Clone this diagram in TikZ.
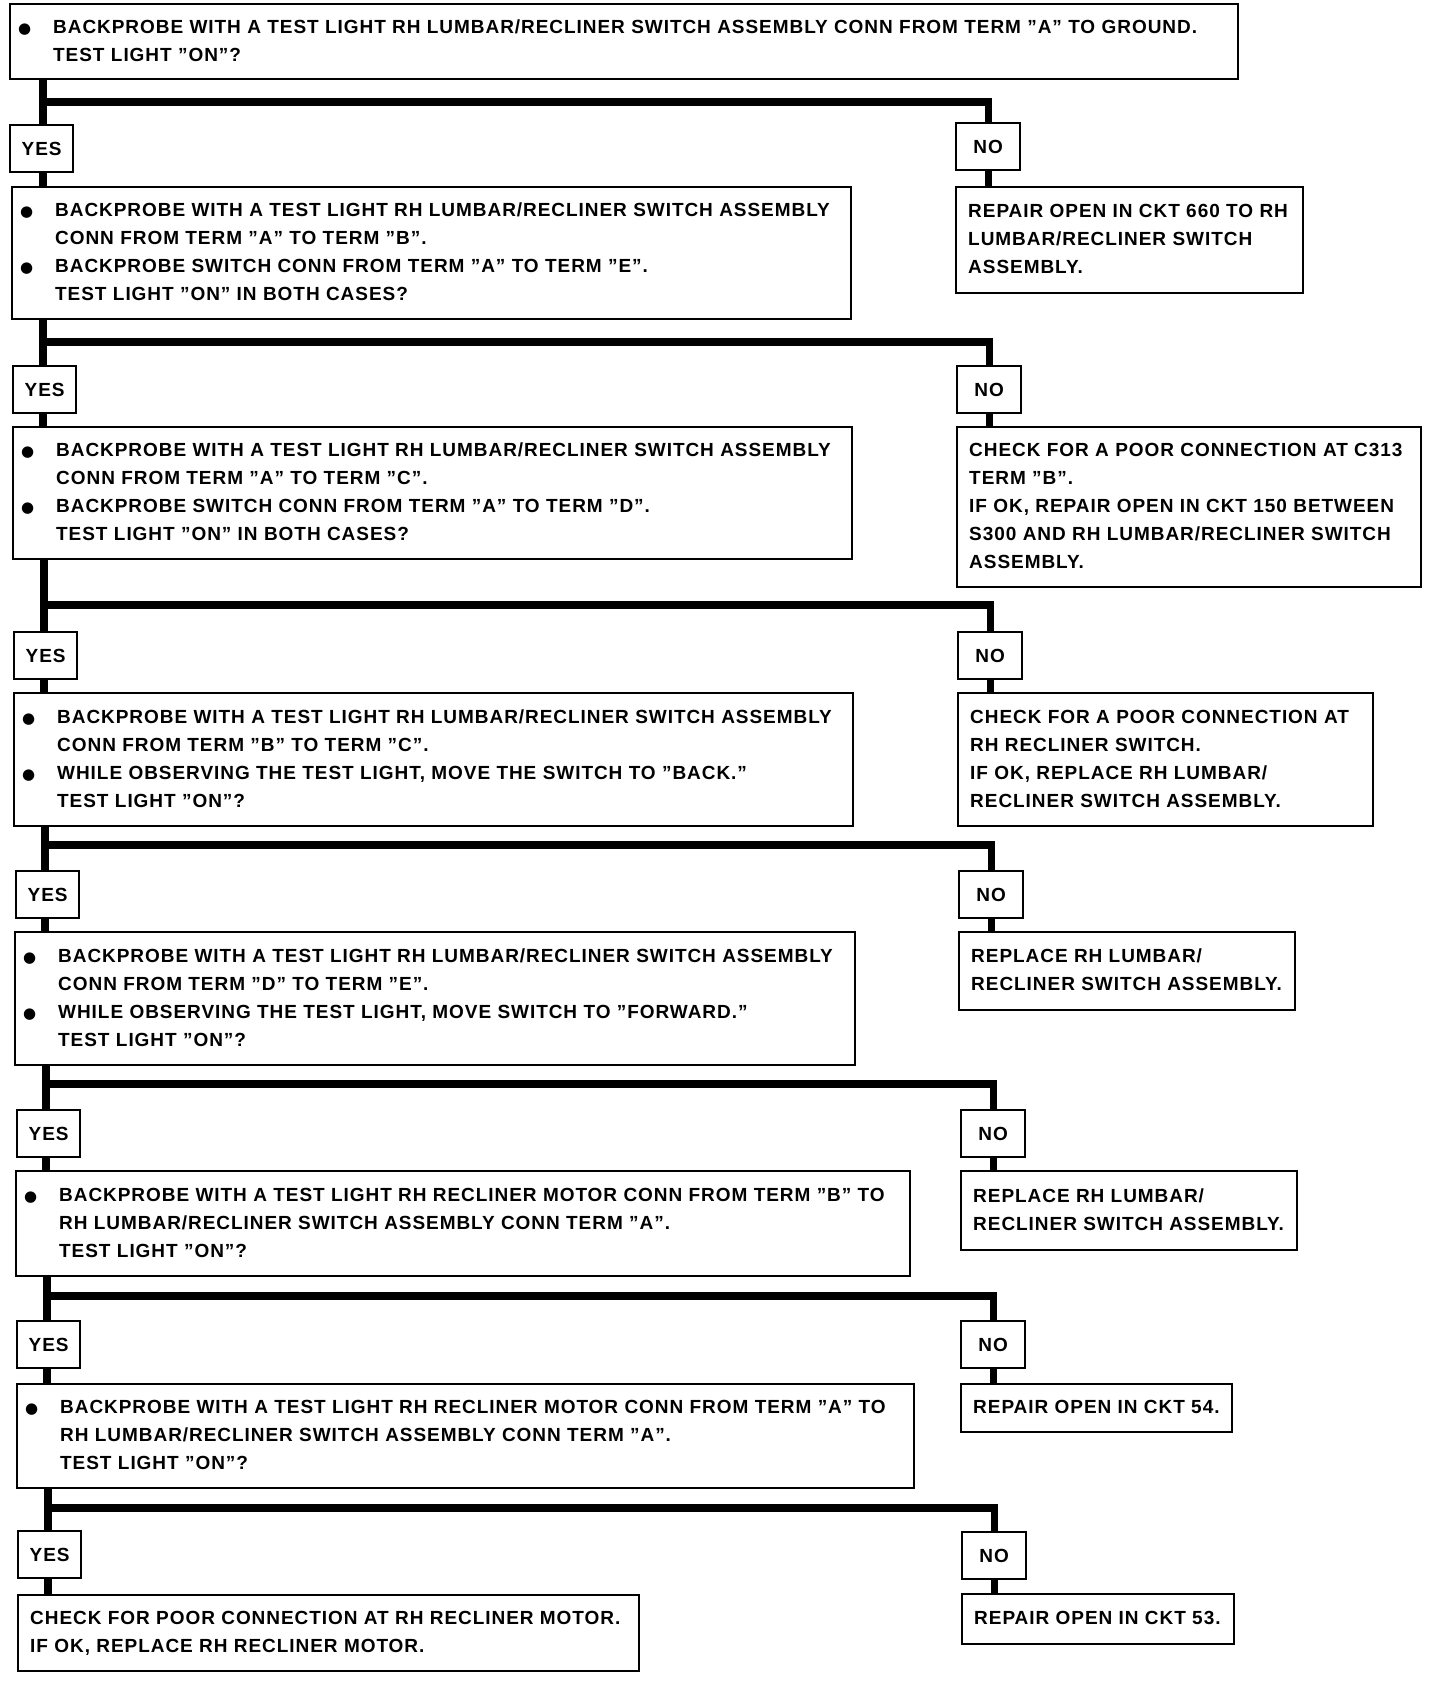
\documentclass[tikz,border=0pt]{standalone}
\usepackage{fontspec}
\setmainfont{Liberation Sans}[LetterSpace=5]
\newfontfamily\dejavufont{DejaVu Sans}
\newcommand\bulletmark{{\dejavufont\fontsize{7.5}{14}\selectfont ●}}
\newcommand\qlines[1]{\noindent\begin{tabular}{@{}p{17.5pt}@{}l@{}}#1\end{tabular}}
\newcommand\rlines[1]{\noindent\begin{tabular}{@{}l@{}}#1\end{tabular}}
\begin{document}
\begin{tikzpicture}[x=0.5pt,y=-0.5pt,
  box/.style={draw, line width=1.2pt, inner ysep=0pt, anchor=north west,
    font=\fontsize{9.5}{14}\selectfont\bfseries},
  qbox/.style={box, inner xsep=4pt},
  rbox/.style={box, inner xsep=6pt},
  yesbox/.style={draw, line width=1.2pt, inner sep=0pt, anchor=north west,
    minimum width=31.5pt, minimum height=23.5pt, font=\fontsize{9.5}{14}\selectfont\bfseries},
  nobox/.style={yesbox, minimum width=32pt},
  conn/.style={line width=3.6pt, line join=miter}]
\useasboundingbox (0,0) rectangle (1440,1686);

% question boxes
\node[qbox, text width=606pt, minimum height=37.5pt] (q1) at (9,3)
 {\qlines{\bulletmark & BACKPROBE WITH A TEST LIGHT RH LUMBAR/RECLINER SWITCH ASSEMBLY CONN FROM TERM "A" TO GROUND.\\
  & TEST LIGHT "ON"?}};
\node[qbox, text width=411.5pt, minimum height=66pt] (q2) at (11,186)
 {\qlines{\bulletmark & BACKPROBE WITH A TEST LIGHT RH LUMBAR/RECLINER SWITCH ASSEMBLY\\
  & CONN FROM TERM "A" TO TERM "B".\\
  \bulletmark & BACKPROBE SWITCH CONN FROM TERM "A" TO TERM "E".\\
  & TEST LIGHT "ON" IN BOTH CASES?}};
\node[qbox, text width=411.5pt, minimum height=66pt] (q3) at (12,426)
 {\qlines{\bulletmark & BACKPROBE WITH A TEST LIGHT RH LUMBAR/RECLINER SWITCH ASSEMBLY\\
  & CONN FROM TERM "A" TO TERM "C".\\
  \bulletmark & BACKPROBE SWITCH CONN FROM TERM "A" TO TERM "D".\\
  & TEST LIGHT "ON" IN BOTH CASES?}};
\node[qbox, text width=411.5pt, minimum height=66.5pt] (q4) at (13,692)
 {\qlines{\bulletmark & BACKPROBE WITH A TEST LIGHT RH LUMBAR/RECLINER SWITCH ASSEMBLY\\
  & CONN FROM TERM "B" TO TERM "C".\\
  \bulletmark & WHILE OBSERVING THE TEST LIGHT, MOVE THE SWITCH TO "BACK."\\
  & TEST LIGHT "ON"?}};
\node[qbox, text width=412pt, minimum height=66.5pt] (q5) at (14,931)
 {\qlines{\bulletmark & BACKPROBE WITH A TEST LIGHT RH LUMBAR/RECLINER SWITCH ASSEMBLY\\
  & CONN FROM TERM "D" TO TERM "E".\\
  \bulletmark & WHILE OBSERVING THE TEST LIGHT, MOVE SWITCH TO "FORWARD."\\
  & TEST LIGHT "ON"?}};
\node[qbox, text width=439pt, minimum height=52.5pt] (q6) at (15,1170)
 {\qlines{\bulletmark & BACKPROBE WITH A TEST LIGHT RH RECLINER MOTOR CONN FROM TERM "B" TO\\
  & RH LUMBAR/RECLINER SWITCH ASSEMBLY CONN TERM "A".\\
  & TEST LIGHT "ON"?}};
\node[qbox, text width=440.5pt, minimum height=52pt] (q7) at (16,1383)
 {\qlines{\bulletmark & BACKPROBE WITH A TEST LIGHT RH RECLINER MOTOR CONN FROM TERM "A" TO\\
  & RH LUMBAR/RECLINER SWITCH ASSEMBLY CONN TERM "A".\\
  & TEST LIGHT "ON"?}};
\node[rbox, text width=298.5pt, minimum height=38pt] (fin) at (17,1594)
 {\rlines{CHECK FOR POOR CONNECTION AT RH RECLINER MOTOR.\\
  IF OK, REPLACE RH RECLINER MOTOR.}};

% result boxes
\node[rbox, text width=161.5pt, minimum height=53pt] (r1) at (955,186)
 {\rlines{REPAIR OPEN IN CKT 660 TO RH\\ LUMBAR/RECLINER SWITCH\\ ASSEMBLY.}};
\node[rbox, text width=220pt, minimum height=80pt] (r2) at (956,426)
 {\rlines{CHECK FOR A POOR CONNECTION AT C313\\ TERM "B".\\ IF OK, REPAIR OPEN IN CKT 150 BETWEEN\\ S300 AND RH LUMBAR/RECLINER SWITCH\\ ASSEMBLY.}};
\node[rbox, text width=195.5pt, minimum height=66.5pt] (r3) at (957,692)
 {\rlines{CHECK FOR A POOR CONNECTION AT\\ RH RECLINER SWITCH.\\ IF OK, REPLACE RH LUMBAR/\\ RECLINER SWITCH ASSEMBLY.}};
\node[rbox, text width=156pt, minimum height=39pt] (r4) at (958,931)
 {\rlines{REPLACE RH LUMBAR/\\ RECLINER SWITCH ASSEMBLY.}};
\node[rbox, text width=156pt, minimum height=39.5pt] (r5) at (960,1170)
 {\rlines{REPLACE RH LUMBAR/\\ RECLINER SWITCH ASSEMBLY.}};
\node[rbox, text width=123.5pt, minimum height=24pt] (r6) at (960,1383)
 {\rlines{REPAIR OPEN IN CKT 54.}};
\node[rbox, text width=124pt, minimum height=25pt] (r7) at (961,1593)
 {\rlines{REPAIR OPEN IN CKT 53.}};

% YES boxes
\node[yesbox] (y1) at (9,124) {YES};
\node[yesbox] (y2) at (12,365) {YES};
\node[yesbox] (y3) at (13,631) {YES};
\node[yesbox] (y4) at (15,870) {YES};
\node[yesbox] (y5) at (16,1109) {YES};
\node[yesbox] (y6) at (16,1320) {YES};
\node[yesbox] (y7) at (17,1530) {YES};

% NO boxes
\node[nobox] (n1) at (955,122) {NO};
\node[nobox] (n2) at (956,365) {NO};
\node[nobox] (n3) at (957,631) {NO};
\node[nobox] (n4) at (958,870) {NO};
\node[nobox] (n5) at (960,1109) {NO};
\node[nobox] (n6) at (960,1320) {NO};
\node[nobox] (n7) at (961,1531) {NO};

% branch points on the trunk
\coordinate (b1) at (43,102);
\coordinate (b2) at (43,342);
\coordinate (b3) at (44,605);
\coordinate (b4) at (45,845);
\coordinate (b5) at (46,1084);
\coordinate (b6) at (47,1296);
\coordinate (b7) at (48,1508);

% connectors
\draw[conn] (q1.south -| b1) -- (y1.north -| b1);
\draw[conn] (b1) -| (n1.north);
\draw[conn] (y1.south -| b1) -- (q2.north -| b1);
\draw[conn] (n1.south) -- (r1.north -| n1.south);

\draw[conn] (q2.south -| b2) -- (y2.north -| b2);
\draw[conn] (b2) -| (n2.north);
\draw[conn] (y2.south -| b2) -- (q3.north -| b2);
\draw[conn] (n2.south) -- (r2.north -| n2.south);

\draw[conn] (q3.south -| b3) -- (y3.north -| b3);
\draw[conn] (b3) -| (n3.north);
\draw[conn] (y3.south -| b3) -- (q4.north -| b3);
\draw[conn] (n3.south) -- (r3.north -| n3.south);

\draw[conn] (q4.south -| b4) -- (y4.north -| b4);
\draw[conn] (b4) -| (n4.north);
\draw[conn] (y4.south -| b4) -- (q5.north -| b4);
\draw[conn] (n4.south) -- (r4.north -| n4.south);

\draw[conn] (q5.south -| b5) -- (y5.north -| b5);
\draw[conn] (b5) -| (n5.north);
\draw[conn] (y5.south -| b5) -- (q6.north -| b5);
\draw[conn] (n5.south) -- (r5.north -| n5.south);

\draw[conn] (q6.south -| b6) -- (y6.north -| b6);
\draw[conn] (b6) -| (n6.north);
\draw[conn] (y6.south -| b6) -- (q7.north -| b6);
\draw[conn] (n6.south) -- (r6.north -| n6.south);

\draw[conn] (q7.south -| b7) -- (y7.north -| b7);
\draw[conn] (b7) -| (n7.north);
\draw[conn] (y7.south -| b7) -- (fin.north -| b7);
\draw[conn] (n7.south) -- (r7.north -| n7.south);
\end{tikzpicture}
\end{document}
